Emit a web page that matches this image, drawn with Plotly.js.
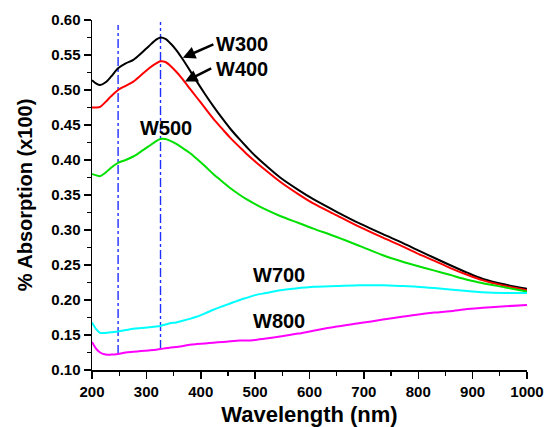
<!DOCTYPE html>
<html>
<head>
<meta charset="utf-8">
<script src="https://cdn.plot.ly/plotly-3.0.1.min.js"></script>
<style>
html,body{margin:0;padding:0;background:#fff;}
#chart{width:547px;height:427px;}
</style>
</head>
<body>
<div id="chart"></div>
<script>
// Wavelength grid (nm)
var wavelength = [200, 208, 215, 225, 235, 248, 262, 276, 290, 305, 318, 326, 335, 345, 355, 365, 380, 392, 408, 423, 440, 454, 472, 484, 500, 520, 546, 580, 607, 650, 693, 735, 770, 797, 830, 858, 890, 919, 960, 1000];

// % Absorption (x100) for each sample
var w300 = [0.514, 0.509, 0.507, 0.511, 0.519, 0.531, 0.538, 0.543, 0.552, 0.563, 0.572, 0.575, 0.573, 0.566, 0.557, 0.546, 0.528, 0.513, 0.494, 0.477, 0.459, 0.445, 0.429, 0.419, 0.406, 0.392, 0.375, 0.357, 0.344, 0.326, 0.309, 0.294, 0.282, 0.272, 0.260, 0.250, 0.239, 0.230, 0.222, 0.216];
var w400 = [0.475, 0.475, 0.476, 0.483, 0.491, 0.500, 0.506, 0.512, 0.521, 0.531, 0.538, 0.541, 0.540, 0.534, 0.526, 0.517, 0.502, 0.490, 0.474, 0.459, 0.444, 0.432, 0.418, 0.409, 0.398, 0.385, 0.369, 0.351, 0.338, 0.321, 0.304, 0.289, 0.277, 0.267, 0.256, 0.246, 0.236, 0.228, 0.220, 0.214];
var w500 = [0.380, 0.378, 0.377, 0.382, 0.389, 0.396, 0.400, 0.405, 0.412, 0.420, 0.427, 0.430, 0.430, 0.427, 0.423, 0.418, 0.410, 0.402, 0.391, 0.380, 0.369, 0.360, 0.350, 0.344, 0.337, 0.329, 0.320, 0.310, 0.302, 0.290, 0.277, 0.264, 0.255, 0.249, 0.242, 0.236, 0.229, 0.224, 0.218, 0.212];
var w700 = [0.168, 0.158, 0.153, 0.153, 0.154, 0.155, 0.157, 0.159, 0.160, 0.161, 0.162, 0.163, 0.165, 0.167, 0.168, 0.170, 0.173, 0.176, 0.181, 0.186, 0.191, 0.195, 0.200, 0.203, 0.207, 0.210, 0.214, 0.217, 0.219, 0.220, 0.221, 0.221, 0.220, 0.219, 0.217, 0.215, 0.213, 0.211, 0.210, 0.210];
var w800 = [0.140, 0.130, 0.125, 0.122, 0.122, 0.123, 0.125, 0.126, 0.127, 0.128, 0.129, 0.130, 0.131, 0.132, 0.133, 0.134, 0.136, 0.137, 0.138, 0.139, 0.140, 0.141, 0.142, 0.142, 0.143, 0.145, 0.148, 0.152, 0.156, 0.162, 0.167, 0.172, 0.176, 0.179, 0.182, 0.184, 0.187, 0.189, 0.191, 0.193];

var seriesNames = ['W300', 'W400', 'W500', 'W700', 'W800'];
var seriesColors = ['#000000', '#ff0000', '#00e000', '#00ffff', '#ff00ff'];
var seriesValues = [w300, w400, w500, w700, w800];

// Marker (dash-dot) wavelengths and their vertical extent
var markerX = [248, 326];
var markerYTop = [0.593, 0.597];
var markerYBottom = [0.123, 0.130];

// Label positions (data coordinates)
var labelText = ['W300', 'W400', 'W500', 'W700', 'W800'];
var labelX = [476, 476, 336, 544, 544];
var labelY = [0.566, 0.530, 0.446, 0.236, 0.170];

// Arrows: tail -> head
var arrowTailX = [426, 422];
var arrowTailY = [0.566, 0.532];
var arrowHeadX = [367, 371];
var arrowHeadY = [0.546, 0.512];

var FONT = 'Liberation Sans, Arial, Helvetica, sans-serif';

var traces = [];
for (var m = 0; m < markerX.length; m++) {
  traces.push({
    x: [markerX[m], markerX[m]],
    y: [markerYBottom[m], markerYTop[m]],
    mode: 'lines',
    line: {color: '#1f2fff', width: 1.4, dash: 'dashdot'},
    hoverinfo: 'skip',
    showlegend: false
  });
}
for (var i = 0; i < seriesNames.length; i++) {
  traces.push({
    x: wavelength,
    y: seriesValues[i],
    name: seriesNames[i],
    mode: 'lines',
    line: {color: seriesColors[i], width: 2, shape: 'spline', smoothing: 0.8},
    showlegend: false
  });
}

var annotations = [];
for (var k = 0; k < labelText.length; k++) {
  annotations.push({
    x: labelX[k], y: labelY[k], xref: 'x', yref: 'y',
    text: labelText[k], showarrow: false,
    font: {family: FONT, size: 20, color: '#000', weight: 'bold'}
  });
}
for (var a = 0; a < arrowTailX.length; a++) {
  annotations.push({
    x: arrowHeadX[a], y: arrowHeadY[a], xref: 'x', yref: 'y',
    ax: arrowTailX[a], ay: arrowTailY[a], axref: 'x', ayref: 'y',
    text: '', showarrow: true, arrowhead: 2, arrowsize: 1, arrowwidth: 2.5,
    arrowcolor: '#000'
  });
}

var layout = {
  width: 547, height: 427,
  margin: {l: 92, r: 20, t: 20, b: 57},
  paper_bgcolor: '#fff', plot_bgcolor: '#fff',
  font: {family: FONT, color: '#000'},
  showlegend: false,
  xaxis: {
    range: [200, 1000], dtick: 100, tick0: 200,
    showline: true, linewidth: 1.5, linecolor: '#000',
    ticks: 'outside', ticklen: 7, tickwidth: 1.5, tickcolor: '#000',
    minor: {dtick: 50, ticks: 'outside', ticklen: 4, tickwidth: 1.2, tickcolor: '#000'},
    showgrid: false, zeroline: false,
    tickfont: {family: FONT, size: 15, color: '#000', weight: 'bold'},
    title: {text: 'Wavelength (nm)', standoff: 8, font: {family: FONT, size: 22, color: '#000', weight: 'bold'}}
  },
  yaxis: {
    range: [0.10, 0.60], dtick: 0.05, tick0: 0.10, tickformat: '.2f',
    showline: true, linewidth: 1.5, linecolor: '#000',
    ticks: 'outside', ticklen: 7, tickwidth: 1.5, tickcolor: '#000',
    minor: {dtick: 0.025, ticks: 'outside', ticklen: 4, tickwidth: 1.2, tickcolor: '#000'},
    showgrid: false, zeroline: false,
    tickfont: {family: FONT, size: 15, color: '#000', weight: 'bold'},
    title: {text: '% Absorption (x100)', standoff: 13, font: {family: FONT, size: 20, color: '#000', weight: 'bold'}}
  },
  annotations: annotations
};

Plotly.newPlot('chart', traces, layout, {displayModeBar: false, staticPlot: true});
</script>
</body>
</html>
